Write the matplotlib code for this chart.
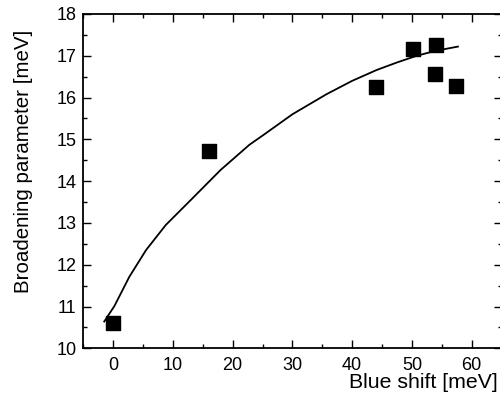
import matplotlib
matplotlib.use("Agg")
import matplotlib.pyplot as plt
from matplotlib.ticker import MultipleLocator

plt.rcParams['font.family'] = ['Liberation Sans', 'DejaVu Sans']

# Data points
blue_shift = [0.0, 16.0, 44.0, 50.2, 54.0, 53.9, 57.4]
broadening = [10.61, 14.71, 16.25, 17.17, 17.26, 16.57, 16.28]

# Fit curve
fit_x = [-1.5, 0.2, 2.7, 5.5, 8.8, 13.0, 18.0, 22.8, 25.1, 30.0, 35.7, 40.0, 44.1, 47.5, 50.8, 54.0, 57.7]
fit_y = [10.64, 11.01, 11.71, 12.35, 12.95, 13.55, 14.27, 14.87, 15.1, 15.6, 16.08, 16.4, 16.66, 16.84, 17.0, 17.12, 17.22]

fig = plt.figure(figsize=(5.0, 3.99), dpi=100)
ax = fig.add_axes([83.3/500, 1 - 348.3/399, (501.5 - 83.3)/500, (348.3 - 14)/399])

ax.plot(fit_x, fit_y, color='black', lw=1.3)
ax.scatter(blue_shift, broadening, marker='s', s=110, color='black', zorder=3)

ax.set_xlim(-5, 65)
ax.set_ylim(10, 18)
ax.xaxis.set_major_locator(MultipleLocator(10))
ax.xaxis.set_minor_locator(MultipleLocator(5))
ax.yaxis.set_major_locator(MultipleLocator(1))
ax.yaxis.set_minor_locator(MultipleLocator(0.5))
ax.tick_params(which='both', direction='in', top=True, right=True, labelsize=13, width=1)
ax.tick_params(which='major', length=6)
ax.tick_params(which='minor', length=3)
ax.tick_params(axis='x', pad=6)
ax.tick_params(axis='y', pad=5)
for s in ax.spines.values():
    s.set_linewidth(1.3)

ax.set_xlabel('Blue shift [meV]', fontsize=15.3)
ax.xaxis.set_label_coords((498 - 83.3) / (501.5 - 83.3), -(382 - 348.3) / (348.3 - 14))
ax.xaxis.label.set_horizontalalignment('right')
ax.xaxis.label.set_verticalalignment('center')

ax.set_ylabel('Broadening parameter [meV]', fontsize=14.8)
ax.yaxis.set_label_coords(-(83.3 - 24) / (501.5 - 83.3), (348.3 - 161) / (348.3 - 14))
ax.yaxis.label.set_verticalalignment('center')

fig.savefig('out.png', dpi=100)
